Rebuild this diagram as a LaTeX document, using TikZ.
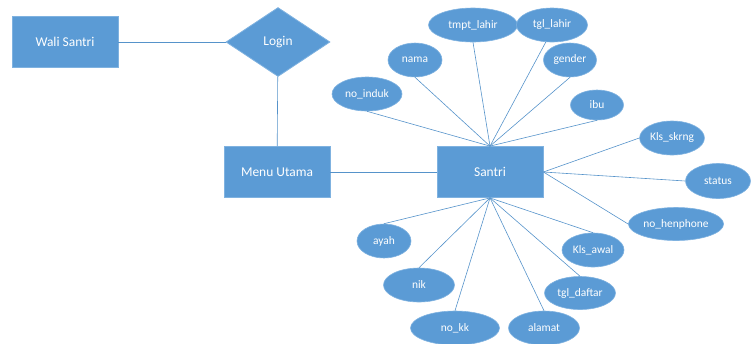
\documentclass[tikz,border=0pt]{standalone}
\usepackage{fontspec}
\setmainfont{Carlito}
\usetikzlibrary{shapes.geometric,positioning}

\definecolor{officeblue}{HTML}{5B9BD5}
\definecolor{edgeblue}{HTML}{7FB2E0}

\begin{document}
\begin{tikzpicture}[x=1bp,y=-1bp,
      entitas/.style={rectangle,fill=officeblue,draw=edgeblue,line width=0.8bp,
        minimum width=106bp,minimum height=51bp,text=white,
        font=\fontsize{13.5}{16}\selectfont},
      relasi/.style={diamond,fill=officeblue,draw=edgeblue,line width=0.8bp,aspect=1.5,
        minimum width=104bp,minimum height=69bp,inner sep=0pt,text=white,
        font=\fontsize{13.5}{16}\selectfont},
      atribut/.style={ellipse,fill=officeblue,draw=edgeblue,line width=0.6bp,
        minimum height=34bp,inner sep=1bp,text=white,
        font=\fontsize{11.5}{13}\selectfont},
      garis/.style={draw=officeblue!95!black,line width=0.6bp}]

      \useasboundingbox (0,0) rectangle (751,343);

      % entitas dan relasi
      \node[entitas] (wali) at (65,42) {Wali Santri};
      \node[relasi] (login) at (278,42) {Login};
      \node[entitas] (menu) at (277,172) {Menu Utama};
      \node[entitas] (santri) at (490,172) {Santri};

      \draw[garis] (wali) -- (login);
      \draw[garis] (login) -- (menu);
      \draw[garis] (menu) -- (santri);

      % atribut santri
      \node[atribut,minimum width=89bp] (tmptlahir) at (473,25) {tmpt\_lahir};
      \node[atribut,minimum width=71bp] (tgllahir) at (552,25) {tgl\_lahir};
      \node[atribut,minimum width=54bp] (nama) at (415,60) {nama};
      \node[atribut,minimum width=53bp] (gender) at (570,60) {gender};
      \node[atribut,minimum width=70bp] (noinduk) at (367,94) {no\_induk};
      \node[atribut,minimum width=53bp,minimum height=30bp] (ibu) at (597,105) {ibu};
      \node[atribut,minimum width=61bp] (klsskrng) at (672,138) {Kls\_skrng};
      \node[atribut,minimum width=65bp,minimum height=35bp] (status) at (718,181) {status};
      \node[atribut,minimum width=87bp,minimum height=33bp] (nohp) at (676,224) {no\_henphone};
      \node[atribut,minimum width=54bp] (ayah) at (384,241) {ayah};
      \node[atribut,minimum width=62bp] (klsawal) at (593,250) {Kls\_awal};
      \node[atribut,minimum width=71bp] (nik) at (419,285) {nik};
      \node[atribut,minimum width=71bp,minimum height=33bp] (tgldaftar) at (580,293) {tgl\_daftar};
      \node[atribut,minimum width=89bp] (nokk) at (455,328) {no\_kk};
      \node[atribut,minimum width=71bp] (alamat) at (544,328) {alamat};

      \foreach \a in {noinduk,nama,tmptlahir,gender,ibu}
        \draw[garis] (santri.north) -- (\a.south);
      \draw[garis] (santri.north) -- (tgllahir.250);
      \foreach \a in {klsskrng,status,nohp}
        \draw[garis] (santri.east) -- (\a.west);
      \foreach \a in {ayah,nik,nokk,alamat,tgldaftar,klsawal}
        \draw[garis] (santri.south) -- (\a.north);
\end{tikzpicture}
\end{document}
